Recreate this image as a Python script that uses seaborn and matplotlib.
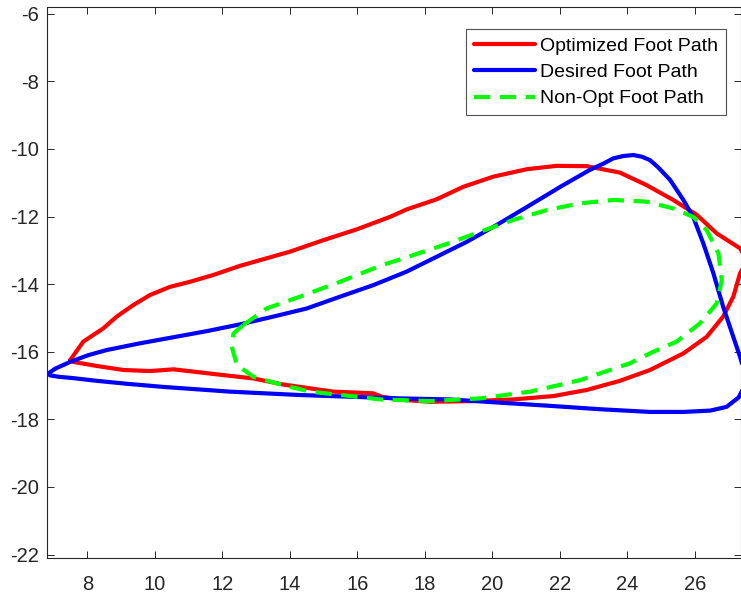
import matplotlib
matplotlib.use("Agg")
import matplotlib.pyplot as plt
import seaborn as sns
import pandas as pd

# Optimized foot path (closed loop, traced tip -> top -> right -> bottom -> tip)
red_x = [7.49, 7.88, 8.47, 8.87, 9.36, 9.86, 10.45, 11.04, 11.73, 12.52, 14.00,
         14.99, 15.98, 16.97, 17.46, 18.35, 19.14, 20.03, 21.02, 21.91, 22.80,
         23.78, 24.57, 25.36, 26.06, 26.65, 27.34, 27.55, 27.34, 27.14, 26.84,
         26.35, 25.66, 24.67, 23.78, 22.80, 21.81, 20.62, 19.40, 18.15, 17.30,
         16.72, 16.47, 15.29, 13.81, 12.92, 12.03, 10.55, 9.86, 9.07, 8.28,
         7.58, 7.49]
red_y = [-16.25, -15.70, -15.31, -14.96, -14.62, -14.32, -14.08, -13.93, -13.73,
         -13.46, -13.04, -12.70, -12.38, -12.01, -11.79, -11.49, -11.12, -10.82,
         -10.60, -10.50, -10.51, -10.70, -11.07, -11.51, -11.95, -12.50, -12.94,
         -13.30, -13.68, -14.37, -14.96, -15.56, -16.05, -16.54, -16.86, -17.13,
         -17.31, -17.41, -17.46, -17.48, -17.42, -17.33, -17.23, -17.18, -16.97,
         -16.79, -16.69, -16.52, -16.57, -16.54, -16.42, -16.30, -16.25]

# Desired foot path
blue_x = [6.83, 7.05, 7.49, 8.03, 8.57, 9.56, 10.55, 11.54, 12.52, 13.51, 14.50,
          15.49, 16.47, 17.46, 18.35, 19.24, 20.13, 21.12, 22.10, 22.89, 23.30,
          23.58, 23.88, 24.18, 24.43, 24.67, 24.92, 25.27, 25.66, 25.95, 26.25,
          26.55, 26.84, 27.14, 27.34, 27.50, 27.45, 27.30, 26.94, 26.46, 25.66,
          24.67, 23.19, 21.71, 20.13, 18.74, 17.26, 14.30, 12.23, 10.25, 9.20,
          8.28, 7.58, 7.15, 6.90, 6.83]
blue_y = [-16.65, -16.50, -16.30, -16.10, -15.95, -15.75, -15.57, -15.39, -15.19,
          -14.96, -14.72, -14.37, -14.03, -13.63, -13.19, -12.75, -12.25, -11.66,
          -11.07, -10.62, -10.43, -10.28, -10.21, -10.18, -10.23, -10.33, -10.55,
          -10.92, -11.51, -12.01, -12.79, -13.68, -14.67, -15.56, -16.15, -16.70,
          -17.05, -17.35, -17.63, -17.74, -17.78, -17.78, -17.70, -17.60, -17.50,
          -17.41, -17.38, -17.28, -17.18, -17.04, -16.95, -16.86, -16.78, -16.74,
          -16.70, -16.65]

# Non-optimized foot path
green_x = [12.62, 13.31, 14.30, 15.49, 16.67, 17.66, 18.65, 19.64, 20.62, 21.61,
           22.60, 23.58, 24.57, 25.36, 25.95, 26.35, 26.70, 26.80, 26.65, 26.15,
           25.46, 24.77, 24.08, 22.60, 21.12, 19.64, 18.15, 16.67, 15.98, 14.60,
           13.81, 12.92, 12.43, 12.28, 12.33, 12.62]
green_y = [-15.21, -14.72, -14.37, -13.93, -13.46, -13.14, -12.81, -12.45, -12.10,
           -11.81, -11.61, -11.51, -11.56, -11.76, -12.01, -12.40, -13.09, -13.88,
           -14.57, -15.16, -15.70, -16.00, -16.34, -16.84, -17.18, -17.38, -17.46,
           -17.41, -17.33, -17.18, -16.99, -16.74, -16.39, -15.85, -15.46, -15.21]

x_ticks = [8, 10, 12, 14, 16, 18, 20, 22, 24, 26]
y_ticks = [-6, -8, -10, -12, -14, -16, -18, -20, -22]

sns.set_style("ticks")
plt.rcParams["font.family"] = ["Liberation Sans", "DejaVu Sans"]
plt.rcParams["axes.unicode_minus"] = False

fig = plt.figure(figsize=(7.41, 5.98), dpi=100)
ax = fig.add_axes([47.5 / 741, 39.7 / 598, (741 - 47.5) / 741, (558.3 - 7.3) / 598])

paths = [
    ("Optimized Foot Path", red_x, red_y, "#ff0000", None),
    ("Desired Foot Path", blue_x, blue_y, "#0000ff", None),
    ("Non-Opt Foot Path", green_x, green_y, "#00ff00", (3.9, 2.3)),
]
for label, xs, ys, color, dash in paths:
    df = pd.DataFrame({"x": xs, "y": ys})
    sns.lineplot(data=df, x="x", y="y", sort=False, estimator=None,
                 color=color, linewidth=3.0, label=label, ax=ax)
    ax.lines[-1].set_solid_joinstyle("round")
    if dash:
        ax.lines[-1].set_dashes(dash)
        ax.lines[-1].set_dash_capstyle("butt")

ax.set_xlim(6.82, 6.82 + (741 - 47.5) / 33.75)
ax.set_ylim(-22.11, -5.81)
ax.set_xticks(x_ticks)
ax.set_yticks(y_ticks)
ax.set_xlabel("")
ax.set_ylabel("")

axis_color = "#262626"
for side in ["left", "right", "top", "bottom"]:
    ax.spines[side].set_visible(True)
    ax.spines[side].set_color(axis_color)
    ax.spines[side].set_linewidth(0.8)
ax.tick_params(axis="both", which="major", direction="in", length=5,
               width=0.7, color=axis_color, labelcolor=axis_color,
               labelsize=14.5, top=True, right=True)
ax.tick_params(axis="x", pad=12)
ax.tick_params(axis="y", pad=6)

leg = ax.legend(loc="upper right", bbox_to_anchor=(0.978, 0.960),
                fontsize=14, frameon=True, fancybox=False,
                handlelength=3.15, handletextpad=0.26, labelspacing=0.45,
                borderpad=0.4, borderaxespad=0.0)
leg.get_frame().set_edgecolor(axis_color)
leg.get_frame().set_linewidth(0.8)
for t in leg.get_texts():
    t.set_color("#000000")

fig.savefig("out.png", dpi=100)
